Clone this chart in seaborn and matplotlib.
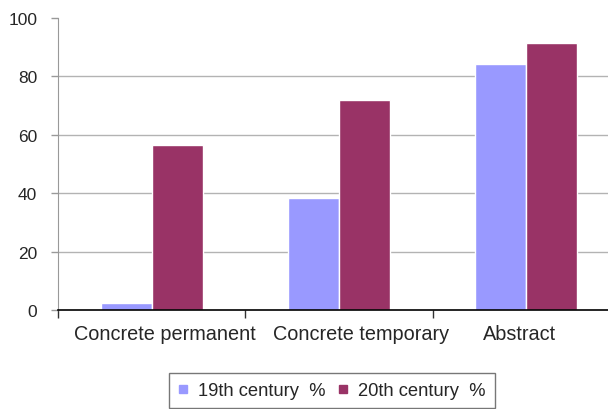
import pandas as pd
import matplotlib
matplotlib.use("Agg")
import matplotlib.pyplot as plt
import matplotlib.transforms as mtransforms
from matplotlib.lines import Line2D
import seaborn as sns

# data
categories = ["Concrete permanent", "Concrete temporary", "Abstract"]
series = ["19th century  %", "20th century  %"]
values_19th = [2.4, 38.2, 84.1]
values_20th = [56.5, 71.8, 91.5]
colors = ["#9999FF", "#993366"]

df = pd.DataFrame({
    "category": categories * 2,
    "series": [series[0]] * 3 + [series[1]] * 3,
    "value": values_19th + values_20th,
})

sns.set_style("white")
plt.rcParams["font.family"] = ["Liberation Sans", "DejaVu Sans"]

fig = plt.figure(figsize=(6.08, 4.10), dpi=100)
ax = fig.add_axes([58 / 608, 1 - 311 / 410, 562 / 608, 292 / 410])

sns.barplot(data=df, x="category", y="value", hue="series", palette=colors,
            width=0.545, edgecolor="white", linewidth=1, saturation=1,
            legend=False, ax=ax, zorder=3)

ax.set_ylim(0, 100)
ax.set_xlim(-0.5, 2.5)
ax.set_yticks([0, 20, 40, 60, 80, 100])
ax.tick_params(axis="y", left=True, labelsize=12.5, length=5, width=1,
               color="#999999", pad=10)
ax.yaxis.grid(True, color="#b3b3b3", linewidth=1)
ax.yaxis.get_gridlines()[-1].set_visible(False)
ax.yaxis.get_gridlines()[0].set_visible(False)

# category boundaries as major ticks, labels on minor ticks
ax.set_xticks([-0.5, 0.5, 1.5, 2.5])
ax.set_xticklabels([])
ax.set_xticks([0, 1, 2], minor=True)
labels = ax.set_xticklabels(categories, minor=True, fontsize=14.3)
ax.tick_params(axis="x", which="major", bottom=True, length=6, width=1,
               color="#333333", direction="out")
ax.tick_params(axis="x", which="minor", bottom=True, length=0, pad=10)
# the original places its category labels slightly off-centre
for lab, dx in zip(labels, [13, 22, -7]):
    lab.set_transform(lab.get_transform() +
                      mtransforms.ScaledTranslation(dx / 100, 0, fig.dpi_scale_trans))
ax.set_xlabel("")
ax.set_ylabel("")

for side in ["top", "right"]:
    ax.spines[side].set_visible(False)
ax.spines["left"].set_color("#999999")
ax.spines["bottom"].set_color("black")
ax.spines["bottom"].set_linewidth(1.2)
ax.spines["bottom"].set_zorder(5)

handles = [Line2D([], [], marker="s", linestyle="", markersize=5.5,
                  markerfacecolor=c, markeredgecolor=c) for c in colors]
leg = fig.legend(handles, series, loc="upper center", ncol=2,
                 bbox_to_anchor=(332 / 608, 1 - 374 / 410), fontsize=13.2,
                 frameon=True, fancybox=False, edgecolor="#555555",
                 handlelength=0.5, handletextpad=0.55, columnspacing=0.75,
                 borderpad=0.5, borderaxespad=0)
leg.get_frame().set_linewidth(1)

fig.savefig("out.png", dpi=100)
